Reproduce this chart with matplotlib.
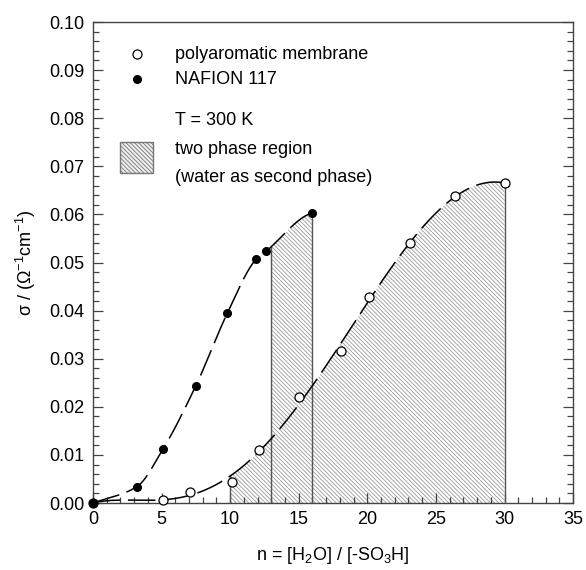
import numpy as np
import matplotlib
matplotlib.use("Agg")
import matplotlib.pyplot as plt
from matplotlib.patches import Rectangle
from matplotlib.ticker import MultipleLocator, FormatStrFormatter

plt.rcParams["font.family"] = ["Liberation Sans", "DejaVu Sans"]
plt.rcParams["mathtext.fontset"] = "custom"
plt.rcParams["mathtext.rm"] = "Liberation Sans"
plt.rcParams["mathtext.it"] = "Liberation Sans"
plt.rcParams["hatch.color"] = "#9a9a9a"
plt.rcParams["hatch.linewidth"] = 0.6

# values
nafion_n = [0.0, 3.2, 5.1, 7.5, 9.8, 11.9, 12.6, 16.0]
nafion_sigma = [0.0, 0.0034, 0.0112, 0.0244, 0.0395, 0.0507, 0.0523, 0.0603]

poly_n = [0.0, 5.1, 7.1, 10.1, 12.1, 15.0, 18.1, 20.1, 23.1, 26.4, 30.0]
poly_sigma = [0.0, 0.0006, 0.0023, 0.0044, 0.011, 0.022, 0.0316, 0.0428,
              0.054, 0.0638, 0.0665]

nafion_two_phase = (13.0, 16.0)
poly_two_phase = (10.0, 30.0)

HATCH = "\\\\\\\\\\\\\\\\"


def pchip(x, y, xs):
    # monotone cubic guide line through the measured points
    x = np.asarray(x, float)
    y = np.asarray(y, float)
    h = np.diff(x)
    d = np.diff(y) / h
    m = np.zeros_like(y)
    for k in range(1, len(x) - 1):
        if d[k - 1] * d[k] > 0:
            w1 = 2 * h[k] + h[k - 1]
            w2 = h[k] + 2 * h[k - 1]
            m[k] = (w1 + w2) / (w1 / d[k - 1] + w2 / d[k])
    m[0] = d[0]
    m[-1] = d[-1] * 0.3
    idx = np.clip(np.searchsorted(x, xs) - 1, 0, len(x) - 2)
    t = (xs - x[idx]) / h[idx]
    h00 = 2 * t**3 - 3 * t**2 + 1
    h10 = t**3 - 2 * t**2 + t
    h01 = -2 * t**3 + 3 * t**2
    h11 = t**3 - t**2
    return (h00 * y[idx] + h10 * h[idx] * m[idx] + h01 * y[idx + 1]
            + h11 * h[idx] * m[idx + 1])


fig = plt.figure(figsize=(5.86, 5.7), dpi=100)
ax = fig.add_axes([0.1587, 0.1175, 0.8193, 0.8439])

xn = np.linspace(nafion_n[0], nafion_n[-1], 300)
yn = pchip(nafion_n, nafion_sigma, xn)

# the polyaromatic guide line is a smooth fit, not a point-to-point line
xp = np.linspace(poly_n[0], poly_n[-1], 400)
coef = np.polyfit(poly_n, poly_sigma, 5)
yp = np.clip(np.polyval(coef, xp), 0, None)

# two phase regions
for (a, b), xs, ys in [(poly_two_phase, xp, yp), (nafion_two_phase, xn, yn)]:
    sel = (xs >= a) & (xs <= b)
    ax.fill_between(xs[sel], 0, ys[sel], facecolor="white",
                    hatch=HATCH, edgecolor="#9a9a9a", linewidth=0)
    for xv in (a, b):
        ax.plot([xv, xv], [0, np.interp(xv, xs, ys)], color="#555555",
                lw=1.0, zorder=3)

ax.plot(xn, yn, color="black", lw=1.1, dashes=(18, 5), zorder=4)
ax.plot(xp, yp, color="black", lw=1.1, dashes=(18, 5), zorder=4)

ax.plot(poly_n, poly_sigma, "o", ms=6.5, mfc="white", mec="black",
        mew=0.9, zorder=5, clip_on=False)
ax.plot(nafion_n, nafion_sigma, "o", ms=5.5, mfc="black", mec="black",
        zorder=6, clip_on=False)

ax.set_xlim(0, 35)
ax.set_ylim(0, 0.10)
ax.xaxis.set_major_locator(MultipleLocator(5))
ax.xaxis.set_minor_locator(MultipleLocator(1))
ax.yaxis.set_major_locator(MultipleLocator(0.01))
ax.yaxis.set_minor_locator(MultipleLocator(0.002))
ax.yaxis.set_major_formatter(FormatStrFormatter("%.2f"))
ax.tick_params(which="both", direction="in", right=True, top=False,
               labelsize=13, color="#444444", width=0.9)
ax.tick_params(which="major", length=7, pad=6)
ax.tick_params(which="minor", length=4)
for s in ax.spines.values():
    s.set_color("#444444")
    s.set_linewidth(1.0)

ax.set_xlabel(r"n = [H$_2$O] / [-SO$_3$H]", fontsize=13, labelpad=12)
ax.set_ylabel(r"σ / (Ω$^{-1}$cm$^{-1}$)", fontsize=13, labelpad=8)

# key
tr = ax.transAxes
ax.plot([0.0917], [0.933], "o", ms=6.5, mfc="white", mec="black",
        mew=0.9, transform=tr)
ax.plot([0.0917], [0.881], "o", ms=5.5, mfc="black", mec="black",
        transform=tr)
ax.text(0.171, 0.933, "polyaromatic membrane", transform=tr, fontsize=13,
        va="center")
ax.text(0.171, 0.881, "NAFION 117", transform=tr, fontsize=13, va="center")
ax.text(0.171, 0.796, "T = 300 K", transform=tr, fontsize=13, va="center")
ax.add_patch(Rectangle((0.056, 0.686), 0.069, 0.064, transform=tr,
                       facecolor="#eeeeee", edgecolor="#777777",
                       hatch=HATCH, lw=1.0))
ax.text(0.171, 0.734, "two phase region", transform=tr, fontsize=13,
        va="center")
ax.text(0.171, 0.676, "(water as second phase)", transform=tr,
        fontsize=13, va="center")

fig.savefig("out.png", dpi=100)
